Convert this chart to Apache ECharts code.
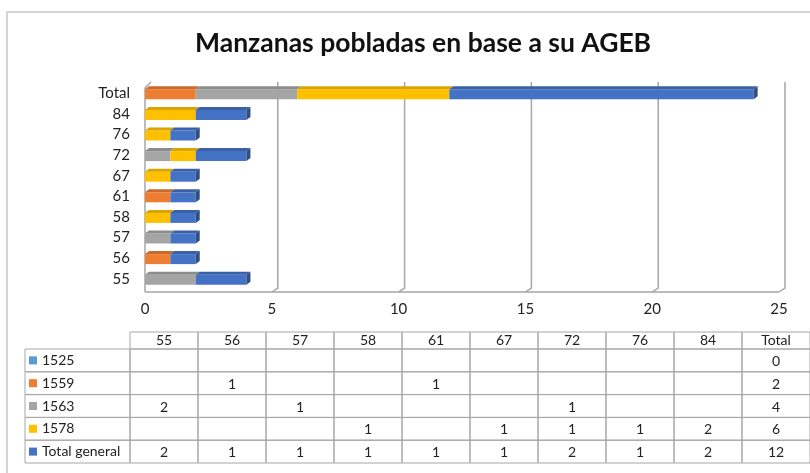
<!DOCTYPE html>
<html>
<head>
<meta charset="utf-8">
<script src="https://cdn.jsdelivr.net/npm/echarts@6/dist/echarts.min.js"></script>
<style>
  html, body { margin: 0; padding: 0; background: #fff; }
  #chart { width: 810px; height: 473px; }
</style>
</head>
<body>
<div id="chart"></div>
<script>
// categories (AGEB) and series values, last entry = Total column
const categories = ['55', '56', '57', '58', '61', '67', '72', '76', '84', 'Total'];
const seriesNames = ['1525', '1559', '1563', '1578', 'Total general'];
const colors = ['#5B9BD5', '#ED7D31', '#A5A5A5', '#FFC000', '#4472C4'];
const v1525 = [null, null, null, null, null, null, null, null, null, 0];
const v1559 = [null, 1, null, null, 1, null, null, null, null, 2];
const v1563 = [2, null, 1, null, null, null, 1, null, null, 4];
const v1578 = [null, null, null, 1, null, 1, 1, 1, 2, 6];
const vTotal = [2, 1, 1, 1, 1, 1, 2, 1, 2, 12];
const xTicks = [0, 5, 10, 15, 20, 25];

const rows = [v1525, v1559, v1563, v1578, vTotal];
const font = 'Lato, "Liberation Sans", sans-serif';

function shade(hex, f) {
  var n = parseInt(hex.slice(1), 16);
  var r = Math.round(((n >> 16) & 255) * f);
  var g = Math.round(((n >> 8) & 255) * f);
  var b = Math.round((n & 255) * f);
  return 'rgb(' + r + ',' + g + ',' + b + ')';
}

// stacked segments: [start, end, categoryIndex, isLast]
var stackEnd = categories.map(() => 0);
var lastSeries = categories.map((c, i) => {
  var k = -1;
  rows.forEach((r, s) => { if (r[i]) k = s; });
  return k;
});
var barSeries = rows.map((r, s) => {
  var data = [];
  r.forEach((v, i) => {
    if (!v) return;
    data.push([stackEnd[i], stackEnd[i] + v, i, lastSeries[i] === s ? 1 : 0]);
    stackEnd[i] += v;
  });
  return {
    name: seriesNames[s],
    type: 'custom',
    xAxisIndex: 0,
    yAxisIndex: 0,
    encode: { x: [0, 1], y: 2 },
    data: data,
    z: 5,
    renderItem: function (params, api) {
      var p0 = api.coord([api.value(0), api.value(2)]);
      var p1 = api.coord([api.value(1), api.value(2)]);
      var bh = 10, dx = 4, dy = -3;
      var yT = p0[1] - bh / 2 + 1, yB = yT + bh;
      var x0 = p0[0], x1 = p1[0];
      var c = colors[s];
      var kids = [
        { type: 'rect', shape: { x: x0, y: yT, width: x1 - x0, height: bh }, style: { fill: c } },
        { type: 'polygon', shape: { points: [[x0, yT], [x1, yT], [x1 + dx, yT + dy], [x0 + dx, yT + dy]] }, style: { fill: shade(c, 0.85) } }
      ];
      if (api.value(3)) {
        kids.push({ type: 'polygon', shape: { points: [[x1, yT], [x1 + dx, yT + dy], [x1 + dx, yB + dy], [x1, yB]] }, style: { fill: shade(c, 0.68) } });
      }
      return { type: 'group', children: kids };
    }
  };
});

// 3D walls: back gridlines, left wall, floor
var frameSeries = {
  type: 'custom',
  xAxisIndex: 0,
  yAxisIndex: 0,
  encode: { x: 0 },
  data: xTicks.map(v => [v]),
  z: 1,
  silent: true,
  renderItem: function (params, api) {
    var cs = params.coordSys;
    var v = api.value(0);
    var x = api.coord([v, 0])[0];
    var dx = 6, dy = -4;
    var top = cs.y - 1, floor = cs.y + cs.height + 3;
    var ls = { stroke: '#A6A6A6', lineWidth: 1.5, fill: null };
    var kids = [];
    if (v === 0) {
      kids.push({ type: 'polyline', shape: { points: [[x, floor], [x, top + 6], [x + dx, top]] }, style: ls });
      kids.push({ type: 'line', shape: { x1: x, y1: floor, x2: cs.x + cs.width, y2: floor }, style: ls });
    } else {
      kids.push({ type: 'polyline', shape: { points: [[x + dx, top], [x + dx, floor + dy], [x, floor]] }, style: ls });
    }
    return { type: 'group', children: kids };
  }
};

// data table cells
var tableData = [];
rows.forEach((r, ri) => {
  r.forEach((v, ci) => tableData.push([ci, ri, v === null ? '' : String(v)]));
});
var tableSeries = {
  type: 'custom',
  xAxisIndex: 1,
  yAxisIndex: 1,
  encode: { x: 0, y: 1 },
  data: tableData,
  silent: true,
  renderItem: function (params, api) {
    var c = api.coord([api.value(0), api.value(1)]);
    var sz = api.size([1, 1]);
    var x = c[0] - sz[0] / 2, y = c[1] - sz[1] / 2;
    var ls = { stroke: '#A6A6A6', lineWidth: 1, fill: null };
    var kids = [
      { type: 'rect', shape: { x: x, y: y, width: sz[0], height: sz[1] }, style: ls },
      { type: 'text', style: { text: tableData[params.dataIndex][2], x: c[0], y: c[1] + 1, align: 'center', verticalAlign: 'middle', font: '14px ' + font, fill: '#222' } }
    ];
    if (api.value(0) === 0) {
      kids.push({ type: 'rect', shape: { x: x - 105, y: y, width: 105, height: sz[1] }, style: ls });
    }
    if (api.value(1) === 0) {
      kids.push({ type: 'rect', shape: { x: x, y: y - 17, width: sz[0], height: 17 }, style: ls });
    }
    return { type: 'group', children: kids };
  }
};

var rich = { t: { fontFamily: font, fontSize: 14, color: '#222', padding: [0, 0, 0, 5] } };
colors.forEach((c, i) => { rich['s' + i] = { width: 8, height: 8, backgroundColor: c }; });

var chart = echarts.init(document.getElementById('chart'));
var option = {
  backgroundColor: '#fff',
  animation: false,
  title: {
    text: 'Manzanas pobladas en base a su AGEB',
    left: 190,
    top: 25,
    textStyle: { fontFamily: font, fontSize: 26.5, fontWeight: 'bold', color: '#111' }
  },
  graphic: [
    { type: 'polyline', shape: { points: [[7, 473], [7, 12], [810, 12]] }, style: { stroke: '#C8C8C8', lineWidth: 1.5, fill: null } }
  ],
  grid: [
    { left: 145, right: 31, top: 83, bottom: 184 },
    { left: 130, right: 0, top: 349, height: 114 }
  ],
  xAxis: [
    {
      type: 'value', gridIndex: 0, min: 0, max: 25, interval: 5,
      axisLine: { show: false }, axisTick: { show: false }, splitLine: { show: false },
      axisLabel: { margin: 13, fontFamily: font, fontSize: 15, color: '#222' }
    },
    {
      type: 'category', gridIndex: 1, position: 'top', data: categories,
      axisLine: { show: false }, axisTick: { show: false }, splitLine: { show: false },
      axisLabel: { margin: 2, fontFamily: font, fontSize: 14, color: '#222', interval: 0 }
    }
  ],
  yAxis: [
    {
      type: 'category', gridIndex: 0, data: categories,
      axisLine: { show: false }, axisTick: { show: false }, splitLine: { show: false },
      axisLabel: { margin: 15, fontFamily: font, fontSize: 15, color: '#222', interval: 0 }
    },
    {
      type: 'category', gridIndex: 1, inverse: true, data: seriesNames,
      axisLine: { show: false }, axisTick: { show: false }, splitLine: { show: false },
      axisLabel: {
        align: 'left', margin: 101, interval: 0, rich: rich,
        formatter: (val, idx) => '{s' + idx + '|}{t|' + val + '}'
      }
    }
  ],
  series: [frameSeries].concat(barSeries, [tableSeries])
};
option && chart.setOption(option);
</script>
</body>
</html>
